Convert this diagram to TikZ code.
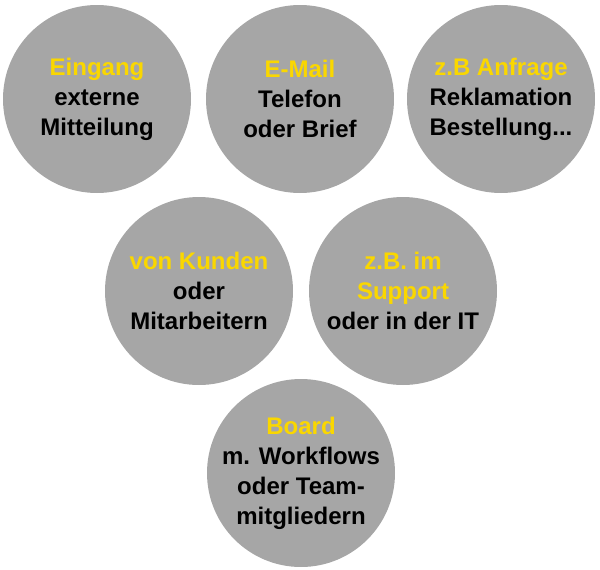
\documentclass[tikz,border=0pt]{standalone}
\usepackage{fontspec}
\setmainfont{Liberation Sans}
\definecolor{discgray}{RGB}{166,166,166}
\definecolor{hlyellow}{RGB}{250,215,0}
\tikzset{
  disc/.style={circle, fill=discgray, draw=none, minimum size=188pt, inner sep=0pt},
  disctext/.style={align=center, inner sep=0pt, text=black, font=\fontsize{24}{30}\selectfont\bfseries},
  hl/.style={}
}
\newcommand{\hlt}[1]{\textcolor{hlyellow}{#1}}
\begin{document}
\begin{tikzpicture}[x=1pt,y=-1pt]
\useasboundingbox (0,0) rectangle (600,570);
\node[disc] (c1) at (97,99) {};
\node[disc] (c2) at (300,99) {};
\node[disc] (c3) at (501,99) {};
\node[disc] (c4) at (199,291) {};
\node[disc] (c5) at (403,291) {};
\node[disc] (c6) at (301,473) {};
\node[disctext] (t1) at (c1) {\hlt{Eingang}\\externe\\Mitteilung};
\node[disctext] (t2) at (c2) {\hlt{E-Mail}\\Telefon\\oder Brief};
\node[disctext] (t3) at (c3) {\hlt{z.B Anfrage}\\Reklamation\\Bestellung...};
\node[disctext] (t4) at (c4) {\hlt{von Kunden}\\oder\\Mitarbeitern};
\node[disctext] (t5) at (c5) {\hlt{z.B. im}\\\hlt{Support}\\oder in der IT};
\node[disctext] (t6) at (c6) {\hlt{Board}\\m. Workflows\\oder Team-\\mitgliedern};
\end{tikzpicture}
\end{document}
